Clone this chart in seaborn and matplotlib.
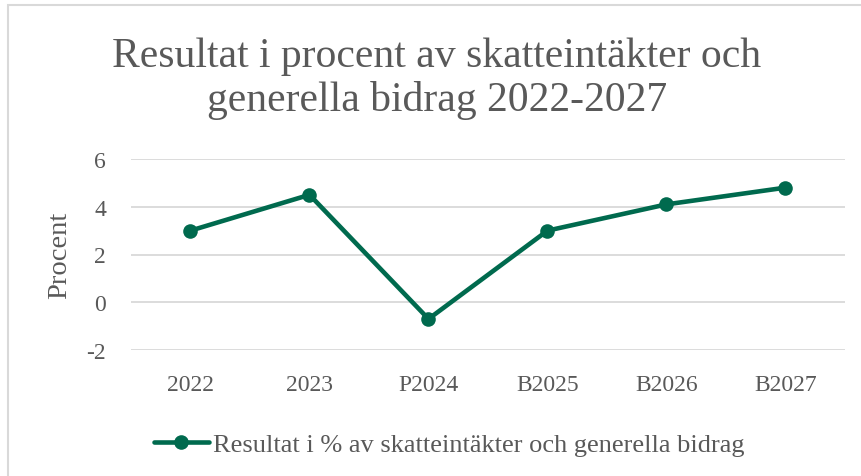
import matplotlib
matplotlib.use("Agg")
import matplotlib.pyplot as plt
import pandas as pd
import seaborn as sns
from matplotlib.patches import Rectangle

# chart data
years = ["2022", "2023", "P2024", "B2025", "B2026", "B2027"]
result_pct = [3.0, 4.5, -0.7, 3.0, 4.1, 4.8]
series_name = "Resultat i % av skatteintäkter och generella bidrag"
title = "Resultat i procent av skatteintäkter och\ngenerella bidrag 2022-2027"

df = pd.DataFrame({"year": years, "value": result_pct})

sns.set_theme(style="white")
plt.rcParams["font.family"] = ["Liberation Serif", "DejaVu Serif"]
plt.rcParams["axes.unicode_minus"] = False

green = "#006A4E"
grey_text = "#595959"
grid_col = "#D9D9D9"

fig = plt.figure(figsize=(8.62, 4.77), dpi=100)
ax = fig.add_axes([131 / 862, 1 - 351 / 477, 714 / 862, 191 / 477])

sns.lineplot(data=df, x="year", y="value", sort=False, color=green,
             linewidth=3.3, marker="o", markersize=10.5, markeredgewidth=0,
             label=series_name, ax=ax, legend=False)

ax.set_xlim(-0.5, len(years) - 0.5)
ax.set_ylim(-2, 6)
ax.set_yticks([-2, 0, 2, 4, 6])
ax.yaxis.grid(True, color=grid_col, linewidth=1.3)
ax.set_axisbelow(True)
for s in ax.spines.values():
    s.set_visible(False)
ax.tick_params(axis="both", length=0, labelsize=17, labelcolor=grey_text)
ax.tick_params(axis="x", pad=17)
ax.tick_params(axis="y", pad=18)
ax.set_xlabel("")
ax.set_ylabel("Procent", fontsize=20.5, color=grey_text, labelpad=10)

fig.text(437 / 862, 1 - 79 / 477, title, ha="center", va="center",
         fontsize=30, color=grey_text, linespacing=1.15)

handles, labels = ax.get_legend_handles_labels()
fig.legend(handles, labels, loc="center", bbox_to_anchor=(449 / 862, 1 - 445 / 477),
           frameon=False, fontsize=19, labelcolor=grey_text, handlelength=2.1,
           handletextpad=0.15)

# chart area border (only left and top visible in the crop)
fig.add_artist(Rectangle((8 / 862, -0.1), 1.2, 1 - 6 / 477 + 0.1,
                         transform=fig.transFigure, fill=False,
                         edgecolor=grid_col, linewidth=1.5))

fig.savefig("out.png", dpi=100)
